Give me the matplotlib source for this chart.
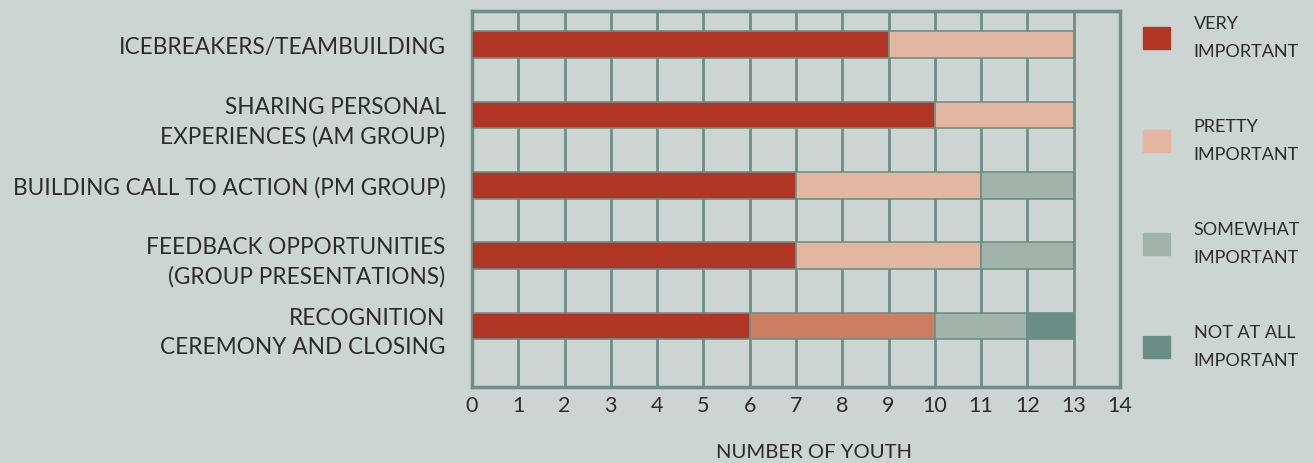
import numpy as np
import matplotlib.pyplot as plt

categories = [
    'ICEBREAKERS/TEAMBUILDING',
    'SHARING PERSONAL\nEXPERIENCES (AM GROUP)',
    'BUILDING CALL TO ACTION (PM GROUP)',
    'FEEDBACK OPPORTUNITIES\n(GROUP PRESENTATIONS)',
    'RECOGNITION\nCEREMONY AND CLOSING',
]
very_important = [9, 10, 7, 7, 6]
pretty_important = [4, 3, 4, 4, 4]
somewhat_important = [0, 0, 2, 2, 2]
not_at_all_important = [0, 0, 0, 0, 1]

series_labels = ['VERY\nIMPORTANT', 'PRETTY\nIMPORTANT', 'SOMEWHAT\nIMPORTANT', 'NOT AT ALL\nIMPORTANT']
colors = ['#b03525', '#e2b6a0', '#a2b3ac', '#6a8d84']
# last row's "pretty important" segment is drawn darker in the original
pretty_colors = ['#e2b6a0', '#e2b6a0', '#e2b6a0', '#e2b6a0', '#cb7e62']

bg = '#cdd5d2'
grid_col = '#6e8f87'
text_col = '#2b2b2b'

plt.rcParams['font.family'] = ['Lato', 'DejaVu Sans']

fig = plt.figure(figsize=(13.14, 4.64), dpi=100, facecolor=bg)
ax = fig.add_axes([472 / 1314, 1 - 388 / 464, 648 / 1314, 376 / 464])
ax.set_facecolor(bg)

y = np.arange(len(categories))
h = 0.38
left = np.zeros(len(categories))
series = [very_important, pretty_important, somewhat_important, not_at_all_important]
handles = []
for i, vals in enumerate(series):
    vals = np.array(vals, dtype=float)
    c = pretty_colors if i == 1 else colors[i]
    ax.barh(y, vals, left=left, height=h, color=c, edgecolor=grid_col,
            linewidth=1.2, zorder=3)
    handles.append(plt.Rectangle((0, 0), 1, 1, color=colors[i]))
    left += vals

ax.set_xlim(0, 14)
ax.set_ylim(4.87, -0.48)
ax.set_xticks(range(0, 15))
ax.set_yticks(y)
ax.set_yticklabels(categories, fontsize=16.3, color=text_col, linespacing=1.45)
ax.tick_params(axis='y', length=0, pad=19)
ax.tick_params(axis='x', length=0, pad=6, labelsize=15.5, labelcolor=text_col)
ax.xaxis.grid(True, color=grid_col, linewidth=2, zorder=1)
ax.set_axisbelow(True)
for s in ax.spines.values():
    s.set_color(grid_col)
    s.set_linewidth(2.5)

fig.text(814 / 1314, 1 - 453 / 464, 'NUMBER OF YOUTH', ha='center', va='center',
         fontsize=14.6, color=text_col)

leg = fig.legend(handles, series_labels, loc='upper left',
                 bbox_to_anchor=(1143 / 1314, 1 - 16 / 464), frameon=False,
                 fontsize=13, handlelength=1.5, handleheight=1.5,
                 handletextpad=1.3, labelspacing=3.25, borderpad=0, borderaxespad=0)
for t in leg.get_texts():
    t.set_color(text_col)
    t.set_linespacing(1.95)

fig.savefig('out.png', dpi=100, facecolor=bg)
